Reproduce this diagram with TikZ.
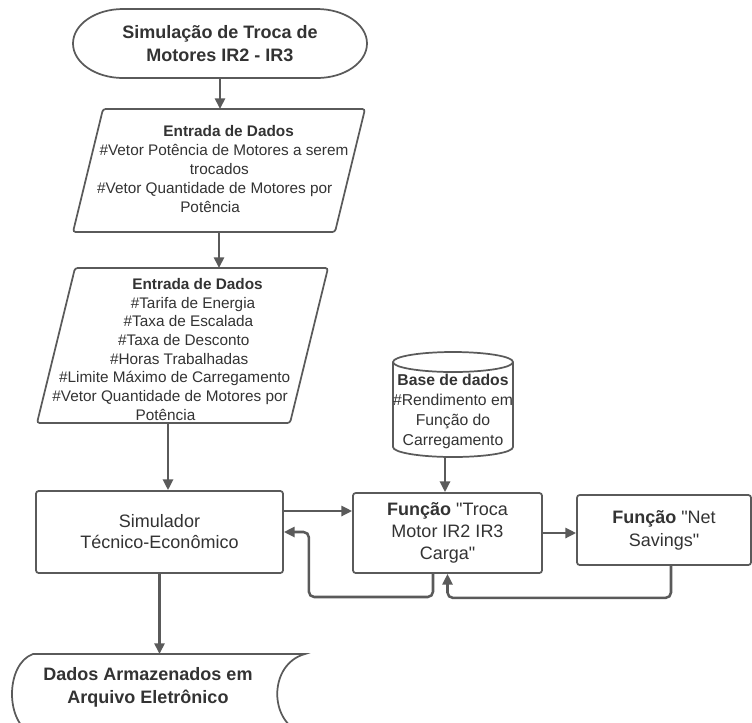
\documentclass[tikz,border=0pt]{standalone}
\usepackage{fontspec}
\setmainfont{Liberation Sans}
\newfontfamily\plainqfont{Liberation Sans}
\newcommand{\straightq}{{\plainqfont\symbol{34}}}
\usetikzlibrary{arrows.meta,calc}
\definecolor{ln}{HTML}{5A5A5A}
\definecolor{tx}{HTML}{333333}
\tikzset{
  shp/.style={draw=ln, line width=1.3pt, fill=white},
  holder/.style={inner sep=0pt, outer sep=0pt, draw=none},
  bigtxt/.style={text=tx, align=center, inner sep=0pt},
  linetxt/.style={text=tx, inner sep=0pt, text height=8.2pt, text depth=0pt, font=\fontsize{11.5}{14}\selectfont},
  arr/.style={draw=ln, line width=1.9pt, -{Triangle[length=8pt,width=7.5pt]}},
  box/.style={shp, rounded corners=2pt, inner sep=2pt, align=center, text=tx},
}
\begin{document}
\begin{tikzpicture}[x=0.75pt,y=-0.75pt]
\useasboundingbox (0,0) rectangle (752,722);

% ---- start terminal
\node[holder, minimum width=220.5pt, minimum height=51.75pt] (start) at (220,43.5) {};
\draw[shp] ($(start.north west)+(50,0)$) -- ($(start.north east)+(-50,0)$)
  arc[start angle=-90,end angle=90,x radius=50,y radius=34.5]
  -- ($(start.south west)+(50,0)$)
  arc[start angle=90,end angle=270,x radius=50,y radius=34.5] -- cycle;
\node[bigtxt, font=\bfseries\fontsize{13.5}{17.25}\selectfont] (starttxt) at (start) {Simulação de Troca de\\Motores IR2 - IR3};

% ---- input 1
\node[holder, minimum width=219pt, minimum height=92.25pt] (in1) at (219,170.5) {};
\draw[shp, rounded corners=2pt] ($(in1.north west)+(30,0)$) -- (in1.north east) -- ($(in1.south east)+(-30,0)$) -- (in1.south west) -- cycle;
\foreach \t [count=\i from 0] in {\textbf{Entrada de Dados}, \#Vetor Potência de Motores a serem, trocados, \#Vetor Quantidade de Motores por, Potência}{
  \pgfmathsetmacro\yy{131+19*\i}
  \pgfmathsetmacro\xx{234-0.244*(\yy-109)}
  \node[linetxt] (inA\i) at (\xx,\yy) {\t};
}

% ---- input 2
\node[holder, minimum width=218.25pt, minimum height=116.25pt] (in2) at (182.5,345.5) {};
\draw[shp, rounded corners=2pt] ($(in2.north west)+(38,0)$) -- (in2.north east) -- ($(in2.south east)+(-38,0)$) -- (in2.south west) -- cycle;
\foreach \t [count=\i from 0] in {\textbf{Entrada de Dados}, \#Tarifa de Energia, \#Taxa de Escalada, \#Taxa de Desconto, \#Horas Trabalhadas, \#Limite Máximo de Carregamento, \#Vetor Quantidade de Motores por, Potência}{
  \pgfmathsetmacro\yy{284+18.7*\i}
  \pgfmathsetmacro\xx{201.5-0.245*(\yy-268)}
  \node[linetxt] (inB\i) at (\xx,\yy) {\t};
}

% ---- database cylinder
\node[holder, minimum width=90pt, minimum height=78.75pt] (db) at (453,404.5) {};
\draw[shp] ($(db.north west)+(0,10)$) -- ($(db.south west)+(0,-10)$)
  arc[start angle=180,end angle=0,x radius=60,y radius=10]
  -- ($(db.north east)+(0,10)$)
  arc[start angle=0,end angle=-180,x radius=60,y radius=10] -- cycle;
\draw[shp, fill=none] ($(db.north west)+(0,10)$) arc[start angle=180,end angle=0,x radius=60,y radius=10];
\node[bigtxt, font=\fontsize{11.8}{15}\selectfont] (dbtxt) at (453,411.5) {\textbf{Base de dados}\\\#Rendimento em\\Função do\\Carregamento};

% ---- process boxes
\node[box, minimum width=185.25pt, minimum height=61.5pt, font=\fontsize{13.5}{15.75}\selectfont] (sim) at (159.5,532) {Simulador\\Técnico-Econômico};
\node[box, minimum width=141.75pt, minimum height=60pt, font=\fontsize{13.5}{16.5}\selectfont] (troca) at (447.5,533) {\textbf{Função} \straightq Troca\\Motor IR2 IR3\\Carga\straightq};
\node[box, minimum width=130.5pt, minimum height=52.5pt, font=\fontsize{13.5}{17.25}\selectfont] (net) at (664,530) {\textbf{Função} \straightq Net\\Savings\straightq};

% ---- stored data
\node[holder, minimum width=219.75pt, minimum height=60pt] (out) at (158.5,694) {};
\draw[shp] ($(out.north west)+(21,0)$) -- (out.north east)
  .. controls ($(out.north east)+(-37,10)$) and ($(out.south east)+(-37,-10)$) .. (out.south east)
  -- ($(out.south west)+(21,0)$)
  .. controls ($(out.south west)+(-7,-10)$) and ($(out.north west)+(-7,10)$) .. ($(out.north west)+(21,0)$) -- cycle;
\node[bigtxt, font=\bfseries\fontsize{13.5}{17.25}\selectfont] (outtxt) at (148,687.5) {Dados Armazenados em\\Arquivo Eletrônico};

% ---- connectors
\draw[arr] (start.south) -- (start.south |- in1.north);
\draw[arr] (in1.south) -- (in1.south |- in2.north);
\coordinate (a2) at ($(in2.south)+(-14.5,0)$);
\draw[arr] (a2) -- (a2 |- sim.north);
\draw[arr] ($(sim.east)+(0,-21)$) -- ($(troca.west)+(0,-22)$);
\draw[arr, rounded corners=4pt] ($(troca.south)+(-14.5,0)$) |- ($(sim.east)+(25,65)$) |- (sim.east);
\draw[arr] ($(db.south)+(-8,0)$) -- ($(troca.north)+(-2.5,0)$);
\draw[arr] (troca.east) -- (troca.east -| net.west);
\draw[arr, rounded corners=4pt] ($(net.south)+(7,0)$) |- ($(troca.south)+(0,24)$) -- (troca.south);
\draw[arr] (sim.south) -- (sim.south |- out.north);
\end{tikzpicture}
\end{document}
